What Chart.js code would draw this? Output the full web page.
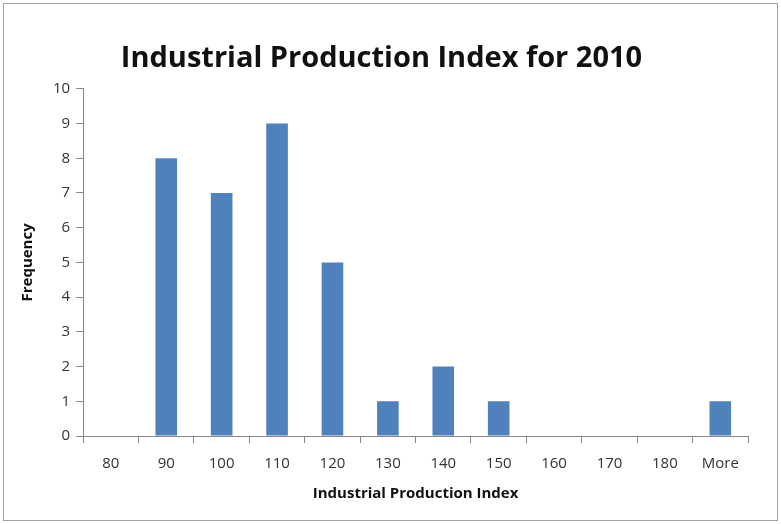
<!DOCTYPE html>
<html>
<head>
<meta charset="utf-8">
<script src="https://cdn.jsdelivr.net/npm/chart.js@4"></script>
<style>
  html, body { margin: 0; padding: 0; background: #fff; }
  #wrap { position: relative; width: 781px; height: 524px; }
  #frame { position: absolute; left: 3px; top: 3px; width: 773px; height: 516px; border: 1px solid #a0a0a0; pointer-events: none; }
</style>
</head>
<body>
<div id="wrap">
  <canvas id="histChart" width="781" height="524"></canvas>
  <div id="frame"></div>
</div>
<script>
const bins = ['80', '90', '100', '110', '120', '130', '140', '150', '160', '170', '180', 'More'];
const frequency = [0, 8, 7, 9, 5, 1, 2, 1, 0, 0, 0, 1];
const yTicks = [0, 1, 2, 3, 4, 5, 6, 7, 8, 9, 10];

const font = "'Open Sans', 'Liberation Sans', sans-serif";

new Chart(document.getElementById('histChart'), {
    type: 'bar',
    data: {
        labels: bins,
        datasets: [
            {
                label: 'Frequency',
                data: frequency,
                backgroundColor: '#4f81bd',
                borderWidth: 0,
                categoryPercentage: 1,
                barPercentage: 0.39,
            },
        ],
    },
    options: {
        responsive: false,
        animation: false,
        layout: { padding: { left: 15, right: 33, top: 41, bottom: 17 } },
        plugins: {
            legend: { display: false },
            tooltip: { enabled: false },
            title: {
                display: true,
                text: 'Industrial Production Index for 2010',
                color: '#111',
                font: { family: font, size: 29, weight: 'bold' },
                padding: { top: 0, bottom: 13 },
            },
        },
        scales: {
            x: {
                grid: { drawOnChartArea: false, color: '#868686', tickLength: 7, offset: true },
                border: { color: '#868686' },
                ticks: { color: '#333', font: { family: font, size: 15 }, padding: 12 },
                title: {
                    display: true,
                    text: 'Industrial Production Index',
                    color: '#111',
                    font: { family: font, size: 15, weight: 'bold' },
                    padding: { top: 0 },
                },
            },
            y: {
                min: 0,
                max: 10,
                afterBuildTicks: (axis) => { axis.ticks = yTicks.map((v) => ({ value: v })); },
                grid: { drawOnChartArea: false, color: '#868686', tickLength: 7 },
                border: { color: '#868686' },
                ticks: { color: '#333', font: { family: font, size: 15 }, padding: 6 },
                title: {
                    display: true,
                    text: 'Frequency',
                    color: '#111',
                    font: { family: font, size: 15, weight: 'bold' },
                    padding: { bottom: 10 },
                },
            },
        },
    },
});
</script>
</body>
</html>
